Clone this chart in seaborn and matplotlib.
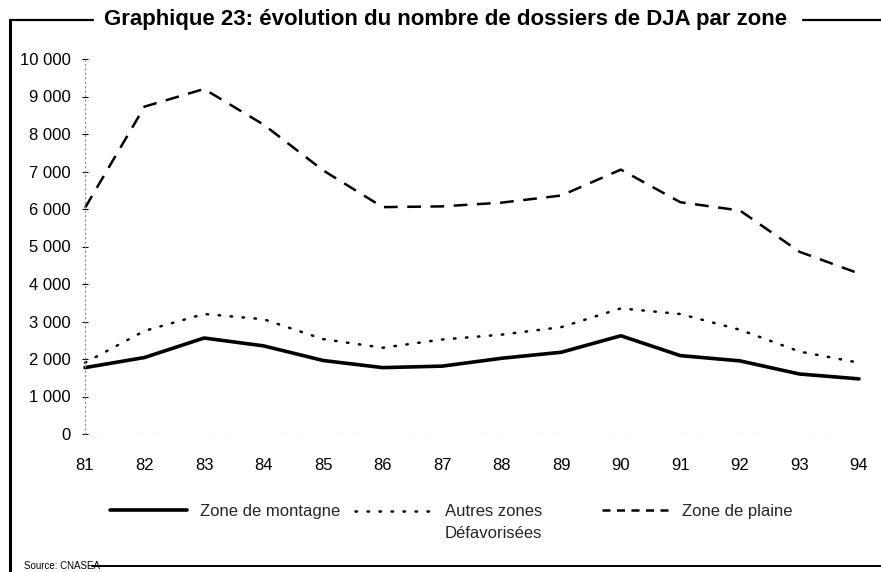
import matplotlib
matplotlib.use("Agg")
import matplotlib.pyplot as plt
from matplotlib.lines import Line2D
import seaborn as sns
import pandas as pd
import numpy as np

years = [81, 82, 83, 84, 85, 86, 87, 88, 89, 90, 91, 92, 93, 94]
year_labels = ["81", "82", "83", "84", "85", "86", "87", "88", "89", "90", "91", "92", "93", "94"]
montagne = [1770, 2040, 2560, 2350, 1960, 1770, 1810, 2020, 2180, 2620, 2090, 1950, 1600, 1470]
autres = [1900, 2750, 3200, 3060, 2530, 2300, 2520, 2650, 2850, 3350, 3200, 2780, 2200, 1900]
plaine = [6030, 8730, 9200, 8250, 7030, 6050, 6070, 6170, 6360, 7050, 6180, 5960, 4860, 4280]
y_ticks = [0, 1000, 2000, 3000, 4000, 5000, 6000, 7000, 8000, 9000, 10000]
y_tick_labels = ["0", "1 000", "2 000", "3 000", "4 000", "5 000", "6 000", "7 000", "8 000", "9 000", "10 000"]
series_names = ["Zone de montagne", "Autres zones\nDéfavorisées", "Zone de plaine"]

df = pd.DataFrame({"annee": years, "montagne": montagne, "autres": autres, "plaine": plaine})

sns.set_theme(style="white")
plt.rcParams["font.family"] = ["Liberation Sans", "DejaVu Sans"]

W, H = 881, 572
fig = plt.figure(figsize=(W / 100, H / 100), dpi=100)
ax = fig.add_axes([85 / W, 1 - 434 / H, (859 - 85) / W, (434 - 59) / H])

styles = [
    ("montagne", dict(color="black", lw=2.6, linestyle="-")),
    ("autres", dict(color="black", lw=1.8, linestyle=(0, (0.6, 4.2)), dash_capstyle="round")),
    ("plaine", dict(color="black", lw=1.8, linestyle=(0, (5.5, 3.8)))),
]
for (col, kw), name in zip(styles, series_names):
    sns.lineplot(data=df, x="annee", y=col, ax=ax, label=name, clip_on=False, **kw)
handles, labels = ax.get_legend_handles_labels()
if ax.get_legend():
    ax.get_legend().remove()

ax.set_xlim(81, 94)
ax.set_ylim(0, 10000)
ax.set_xticks(years)
ax.set_xticklabels(year_labels)
ax.set_yticks(y_ticks)
ax.set_yticklabels(y_tick_labels)
ax.set_xlabel("")
ax.set_ylabel("")
for s in ["top", "right", "bottom"]:
    ax.spines[s].set_visible(False)
ax.spines["left"].set_linestyle((0, (1, 3)))
ax.spines["left"].set_color("#888888")
ax.spines["left"].set_linewidth(0.8)
ax.axhline(0, color="#777777", lw=0.8, linestyle=(0, (2, 3)), zorder=0)
ax.tick_params(axis="x", length=0, pad=17, labelsize=12, colors="black")
ax.tick_params(axis="y", left=True, length=4, width=0.8, direction="inout", pad=8, labelsize=12, colors="black")
ax.patch.set_alpha(0)

# legend, one entry per box
legend_pos = [(110, 513), (355, 513), (602, 513)]
hl = [4.6, 4.6, 4.0]
for i, (h, l, (px, py), hlen) in enumerate(zip(handles, labels, legend_pos, hl)):
    leg = fig.legend([h], [l], loc="upper left", bbox_to_anchor=(px / W, 1 - (py - 9) / H),
                     frameon=False, fontsize=12, handlelength=hlen, handletextpad=0.8,
                     borderpad=0, borderaxespad=0, labelspacing=0.3)
    if "\n" in l:
        for t in leg.get_texts():
            t.set_linespacing(1.55)
        for lh in leg.legend_handles:
            lh.set_ydata(np.asarray(lh.get_ydata()) + 8.3)
    if i == 2:
        for lh in leg.legend_handles:
            lh.set_linestyle((0, (3.2, 2.6)))

# title and frame
fig.text(446 / W, 1 - 20 / H, "Graphique 23: évolution du nombre de dossiers de DJA par zone",
         ha="center", va="center", fontsize=16, fontweight="bold", color="black")
fig.add_artist(Line2D([10 / W, 10 / W], [1 - 20 / H, 0], transform=fig.transFigure, color="black", lw=2.2))
fig.add_artist(Line2D([10 / W, 93 / W], [1 - 20 / H, 1 - 20 / H], transform=fig.transFigure, color="black", lw=1.6))
fig.add_artist(Line2D([803 / W, 1], [1 - 20 / H, 1 - 20 / H], transform=fig.transFigure, color="black", lw=1.6))
fig.add_artist(Line2D([92 / W, 1], [1 - 566 / H, 1 - 566 / H], transform=fig.transFigure, color="black", lw=1.4))
fig.text(24 / W, 1 - 566 / H, "Source: CNASEA", ha="left", va="center", fontsize=7, color="black")

fig.savefig("out.png", dpi=100)
